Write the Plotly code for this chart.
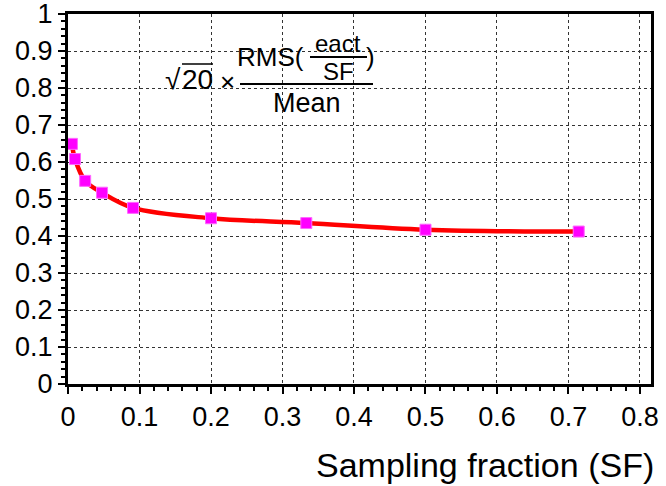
import plotly.graph_objects as go

# Data
sampling_fraction = [0.0055, 0.0098, 0.024, 0.0476, 0.091, 0.2, 0.3333, 0.5, 0.7143]
normalised_rms = [0.649, 0.608, 0.549, 0.517, 0.476, 0.448, 0.435, 0.417, 0.412]

x_ticks = [0, 0.1, 0.2, 0.3, 0.4, 0.5, 0.6, 0.7, 0.8]
x_tick_labels = ["0", "0.1", "0.2", "0.3", "0.4", "0.5", "0.6", "0.7", "0.8"]
y_ticks = [0, 0.1, 0.2, 0.3, 0.4, 0.5, 0.6, 0.7, 0.8, 0.9, 1]
y_tick_labels = ["0", "0.1", "0.2", "0.3", "0.4", "0.5", "0.6", "0.7", "0.8", "0.9", "1"]

W, H = 666, 486
# plot area in page pixels: left 68, right 651, top 14, bottom 384
PL, PR, PT, PB = 68, 651, 14, 384
L, T, R, B = PL, PT, W - PR, H - PB
PW, PH = PR - PL, PB - PT
FONT = "Liberation Sans, Arial, Helvetica, sans-serif"


def px(xp):
    return (xp - PL) / PW


def py(yp):
    return (PB - yp) / PH


fig = go.Figure()
fig.add_trace(go.Scatter(
    x=sampling_fraction, y=normalised_rms, mode="lines",
    line=dict(color="#ff0000", width=4.5, shape="spline", smoothing=1.0),
    hoverinfo="skip", showlegend=False))
fig.add_trace(go.Scatter(
    x=sampling_fraction, y=normalised_rms, mode="markers",
    marker=dict(symbol="square", size=11, color="#ff00ff",
                line=dict(color="#ff66ff", width=1)),
    showlegend=False))

axis_common = dict(
    showline=True, linewidth=3, linecolor="black", mirror=True,
    ticks="outside", ticklen=7, tickwidth=2, tickcolor="black",
    showgrid=True, gridcolor="#333333", gridwidth=1, griddash="dot",
    zeroline=False, automargin=False, ticklabeloverflow="allow",
    tickfont=dict(family=FONT, size=27, color="black"),
)

fig.update_xaxes(range=[0, 0.8154], tickvals=x_ticks, ticktext=x_tick_labels,
                 minor=dict(dtick=0.02, tick0=0, ticks="outside", ticklen=4,
                            tickwidth=2, tickcolor="black", showgrid=False),
                 **axis_common)
fig.update_yaxes(range=[0, 1], tickvals=y_ticks, ticktext=y_tick_labels,
                 minor=dict(dtick=0.02, tick0=0, ticks="outside", ticklen=4,
                            tickwidth=2, tickcolor="black", showgrid=False),
                 **axis_common)

ann = []


def add_text(text, xp, yp, size=26, xanchor="center"):
    ann.append(dict(text=text, x=px(xp), y=py(yp), xref="paper", yref="paper",
                    xanchor=xanchor, yanchor="middle", showarrow=False,
                    font=dict(family=FONT, size=size, color="black")))


add_text("√", 173, 79, size=28)
add_text("20", 197, 80, size=28)
add_text("×", 227, 82, size=26)
add_text("RMS(", 306, 57, size=26, xanchor="right")
add_text("eact", 338, 44, size=24)
add_text("SF", 338, 72, size=24)
add_text(")", 370, 57, size=26)
add_text("Mean", 307, 103, size=27)
add_text("Sampling fraction (SF)", 656, 465, size=34, xanchor="right")

shapes = [
    dict(type="line", xref="paper", yref="paper", x0=px(182), x1=px(213),
         y0=py(64), y1=py(64), line=dict(color="black", width=1.5)),
    dict(type="line", xref="paper", yref="paper", x0=px(240), x1=px(373),
         y0=py(84), y1=py(84), line=dict(color="black", width=2)),
    dict(type="line", xref="paper", yref="paper", x0=px(310), x1=px(367),
         y0=py(57), y1=py(57), line=dict(color="black", width=2)),
]

fig.update_layout(
    width=W, height=H, autosize=False,
    margin=dict(l=L, r=R, t=T, b=B, pad=0),
    paper_bgcolor="white", plot_bgcolor="white",
    annotations=ann, shapes=shapes,
    font=dict(family=FONT, color="black"),
)

fig.write_html("out.html",
               config={"displayModeBar": False},
               post_script="document.body.style.margin='0';"
                           "document.body.style.overflow='hidden';")
